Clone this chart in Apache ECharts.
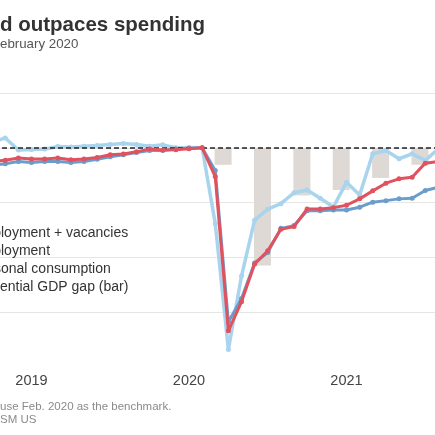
<!DOCTYPE html>
<html><head><meta charset="utf-8">
<script src="https://cdn.jsdelivr.net/npm/echarts@6/dist/echarts.min.js"></script>
<style>
html,body{margin:0;padding:0;width:435px;height:435px;overflow:hidden;background:#fff}
#c{position:absolute;left:-200px;top:0;width:760px;height:435px}
</style>
</head><body><div id="c"></div>
<script>
// ---------------- data ----------------
const months = ['2018-10','2018-11','2018-12',
  '2019-01','2019-02','2019-03','2019-04','2019-05','2019-06','2019-07','2019-08','2019-09','2019-10','2019-11','2019-12',
  '2020-01','2020-02','2020-03','2020-04','2020-05','2020-06','2020-07','2020-08','2020-09','2020-10','2020-11','2020-12',
  '2021-01','2021-02','2021-03','2021-04','2021-05','2021-06','2021-07','2021-08'];
const employmentVacancies = [0.5, 0.9, -0.2,
  -0.15, -0.12, 0.12, 0.08, 0.15, 0.2, 0.3, 0.4, 0.3, 0.15, 0.27, 0.0,
  0.03, 0, -6.9, -18.4, -11.7, -6.6, -5.6, -5.1, -4.1, -3.85, -4.6, -5.4,
  -3.15, -4.3, -0.55, -0.25, -1.0, -0.55, -1.15, -0.1];
const employment = [-1.6, -1.45, -1.25,
  -1.34, -1.25, -1.25, -1.34, -1.25, -1.05, -0.82, -0.64, -0.43, -0.25, -0.25, -0.12,
  -0.03, 0, -2.07, -15.9, -13.75, -10.5, -9.55, -7.35, -7.1, -5.75, -5.75, -5.67,
  -5.67, -5.42, -4.96, -4.82, -4.66, -4.6, -3.9, -3.6];
const consumption = [-1.25, -1.13, -0.94,
  -1.03, -1.03, -0.94, -1.1, -1.03, -0.88, -0.64, -0.56, -0.37, -0.1, -0.2, -0.18,
  -0.09, 0, -2.62, -16.7, -14.05, -10.6, -9.4, -7.43, -7.19, -5.58, -5.58, -5.46,
  -5.24, -4.66, -3.93, -3.23, -2.83, -2.68, -1.4, -1.25];
const gapQuarters = ['2018Q4','2019Q1','2019Q2','2019Q3','2019Q4','2020Q1','2020Q2','2020Q3','2020Q4','2021Q1','2021Q2'];
const gapValues = [0, 0.12, 0, 0.12, 0, -1.55, -10.75, -4.35, -3.85, -2.75, -1.55];
const seriesNames = ['Employment + vacancies', 'Employment', 'Personal consumption', 'Potential GDP gap (bar)'];
const titleText = 'Labor demand outpaces spending';
const subtitleText = '% change since February 2020';
const noteText = 'Note: All series use Feb. 2020 as the benchmark.';
const sourceText = 'Source: BLS, BEA, RSM US';

// ---------------- helpers ----------------
const OX = 200; // chart canvas is shifted 200px left of the window (reference is cropped)
const FONT = 'Liberation Sans';
const ctx = document.createElement('canvas').getContext('2d');
function tw(t, size, weight) { ctx.font = (weight || 'normal') + ' ' + size + 'px ' + FONT; return ctx.measureText(t).width; }
function monthPos(m) { const [y, mo] = m.split('-').map(Number); return y + (mo - 1) / 12; }
function quarterPos(q) { const y = +q.slice(0, 4), n = +q.slice(5); return y + (3 * (n - 1) + 2.6) / 12; }
const pairs = (vals) => months.map((m, i) => [monthPos(m), vals[i]]);

const TS = 20.5, SS = 13.3, LS = 14, FS = 11.5;
const titleLeft = OX - tw('Labor deman', TS, 'bold');
const subLeft = OX - tw('% change since F', SS);
const noteLeft = OX - tw('Note: All series ', FS);
const srcLeft = OX - tw('Source: BLS, BEA, R', FS);
const LEG_ICON = 20;
const legPrefix = ['Emp', 'Emp', 'Pers', 'Pot'];
const legTops = [226, 244, 262, 280];
const colors = ['#a9d4ee', '#6b9dcb', '#e0525e', '#dfd9d6'];

const chart = echarts.init(document.getElementById('c'), null, { renderer: 'canvas' });
const lineBase = (name, vals, color, width, z) => ({
  name, type: 'line', data: pairs(vals), symbol: 'circle', symbolSize: 5,
  itemStyle: { color }, lineStyle: { color, width }, z, animation: false
});

chart.setOption({
  animation: false,
  textStyle: { fontFamily: FONT },
  title: [
    { text: titleText, left: titleLeft, top: 15, padding: 0,
      textStyle: { fontFamily: FONT, fontSize: TS, fontWeight: 'bold', color: '#333' } },
    { text: subtitleText, left: subLeft, top: 38, padding: 0,
      textStyle: { fontFamily: FONT, fontSize: SS, fontWeight: 'normal', color: '#555' } },
    { text: noteText, left: noteLeft, top: 401, padding: 0,
      textStyle: { fontFamily: FONT, fontSize: FS, fontWeight: 'normal', color: '#8a8a8a' } },
    { text: sourceText, left: srcLeft, top: 414, padding: 0,
      textStyle: { fontFamily: FONT, fontSize: FS, fontWeight: 'normal', color: '#8a8a8a' } }
  ],
  legend: seriesNames.map((n, i) => ({
    data: [n], orient: 'horizontal', padding: 0, itemWidth: LEG_ICON, itemHeight: 14,
    left: OX - tw(legPrefix[i], LS) - LEG_ICON - 5, top: legTops[i], selectedMode: false,
    textStyle: { fontFamily: FONT, fontSize: LS, color: '#333' }
  })),
  grid: { left: 74, right: 56, top: 93, bottom: 68, containLabel: false, outerBoundsMode: 'none' },
  xAxis: {
    type: 'value', min: 2018, max: 2022, interval: 1,
    axisLine: { show: false },
    splitLine: { show: false },
    axisTick: { show: true, length: 3, lineStyle: { color: '#888', width: 1 } },
    minorTick: { show: true, splitNumber: 4, length: 1.5, lineStyle: { color: '#999', width: 1 } },
    axisLabel: { formatter: v => String(v), fontFamily: FONT, fontSize: 14.5, color: '#444', margin: 6 }
  },
  yAxis: {
    type: 'value', min: -20, max: 5, interval: 5,
    axisLine: { show: false }, axisTick: { show: false }, axisLabel: { show: false },
    splitLine: { show: true, showMinLine: false, lineStyle: { color: '#e6e6e6', width: 1 } }
  },
  series: [
    { name: seriesNames[3], type: 'bar', barWidth: 17, z: 1,
      data: gapQuarters.map((q, i) => [quarterPos(q), gapValues[i]]),
      itemStyle: { color: colors[3] }, animation: false,
      markLine: { silent: true, symbol: ['none', 'none'], label: { show: false }, animation: false,
        lineStyle: { color: '#222', type: [5, 3], width: 1.5 }, data: [{ yAxis: 0 }] } },
    lineBase(seriesNames[0], employmentVacancies, colors[0], 3.5, 3),
    lineBase(seriesNames[1], employment, colors[1], 3, 4),
    lineBase(seriesNames[2], consumption, colors[2], 3, 5)
  ]
});
</script>
</body></html>
